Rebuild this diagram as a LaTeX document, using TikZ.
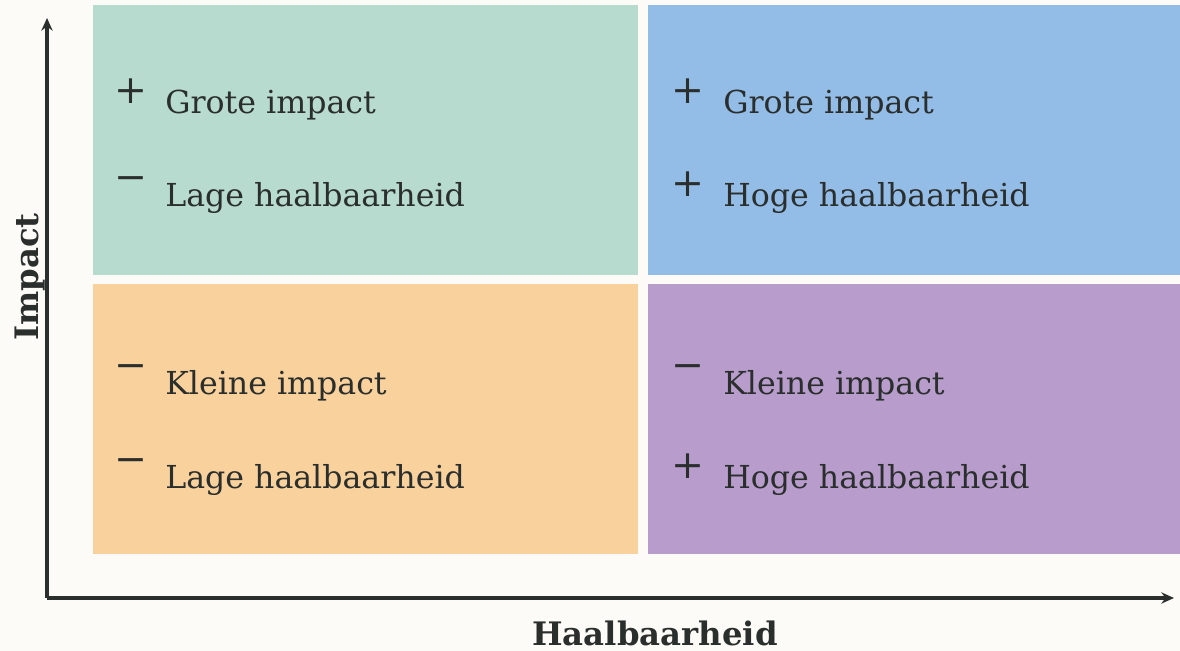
\documentclass[tikz,border=0pt]{standalone}
\usepackage{fontspec}
\setmainfont{DejaVu Serif}
\usepackage{xcolor}
\usetikzlibrary{arrows.meta}

\definecolor{bgcream}{HTML}{FCFBF7}
\definecolor{quadgreen}{HTML}{B8DBCF}
\definecolor{quadblue}{HTML}{93BDE7}
\definecolor{quadorange}{HTML}{F9D19C}
\definecolor{quadpurple}{HTML}{B79CCC}
\definecolor{inkdark}{HTML}{2A2E2C}

\begin{document}
\begin{tikzpicture}[
            x = 0.025cm, y = -0.025cm, % one unit is one pixel of the sketch
            > = {Stealth[length=9pt,width=8pt]}, % arrow head style
            axis/.style = {->, line width=2.2pt, draw=inkdark},
            quad/.style = {draw=none, inner sep=0pt, minimum height=6.75cm},
            sign/.style = {text=inkdark, font=\fontsize{28}{30}\selectfont},
            label/.style = {anchor=base west, text=inkdark, inner sep=0pt,
                            font=\fontsize{22.5}{26}\selectfont},
            axislabel/.style = {text=inkdark, font=\bfseries\fontsize{23}{26}\selectfont}
        ]
\useasboundingbox[fill=bgcream] (0,0) rectangle (1180,651);

% quadrants
\node[quad, fill=quadgreen, minimum width=13.625cm] (TL) at (365.5,140) {};
\node[quad, fill=quadblue, minimum width=13.3cm] (TR) at (914,140) {};
\node[quad, fill=quadorange, minimum width=13.625cm] (BL) at (365.5,419) {};
\node[quad, fill=quadpurple, minimum width=13.3cm] (BR) at (914,419) {};

% axes
\coordinate (O) at (47,598);
\coordinate (Ytop) at (47,18);
\coordinate (Xend) at (1174,598);
\draw[axis] (O.center) -- (Ytop);
\draw[axis] (O.center) -- (Xend);
\node[axislabel, rotate=90] (ylab) at (30,277) {Impact};
\node[axislabel] (xlab) at (655,633) {Haalbaarheid};

% top left
\node[sign] (s1) at (131,91) {+};
\node[label] (t1) at (165,113) {Grote impact};
\node[sign] (s2) at (131,184) {−};
\node[label] (t2) at (165,206) {Lage haalbaarheid};

% top right
\node[sign] (s3) at (688,91) {+};
\node[label] (t3) at (723,113) {Grote impact};
\node[sign] (s4) at (688,184) {+};
\node[label] (t4) at (723,206) {Hoge haalbaarheid};

% bottom left
\node[sign] (s5) at (131,372) {−};
\node[label] (t5) at (165,394) {Kleine impact};
\node[sign] (s6) at (131,466) {−};
\node[label] (t6) at (165,488) {Lage haalbaarheid};

% bottom right
\node[sign] (s7) at (688,372) {−};
\node[label] (t7) at (723,394) {Kleine impact};
\node[sign] (s8) at (688,466) {+};
\node[label] (t8) at (723,488) {Hoge haalbaarheid};
\end{tikzpicture}
\end{document}
